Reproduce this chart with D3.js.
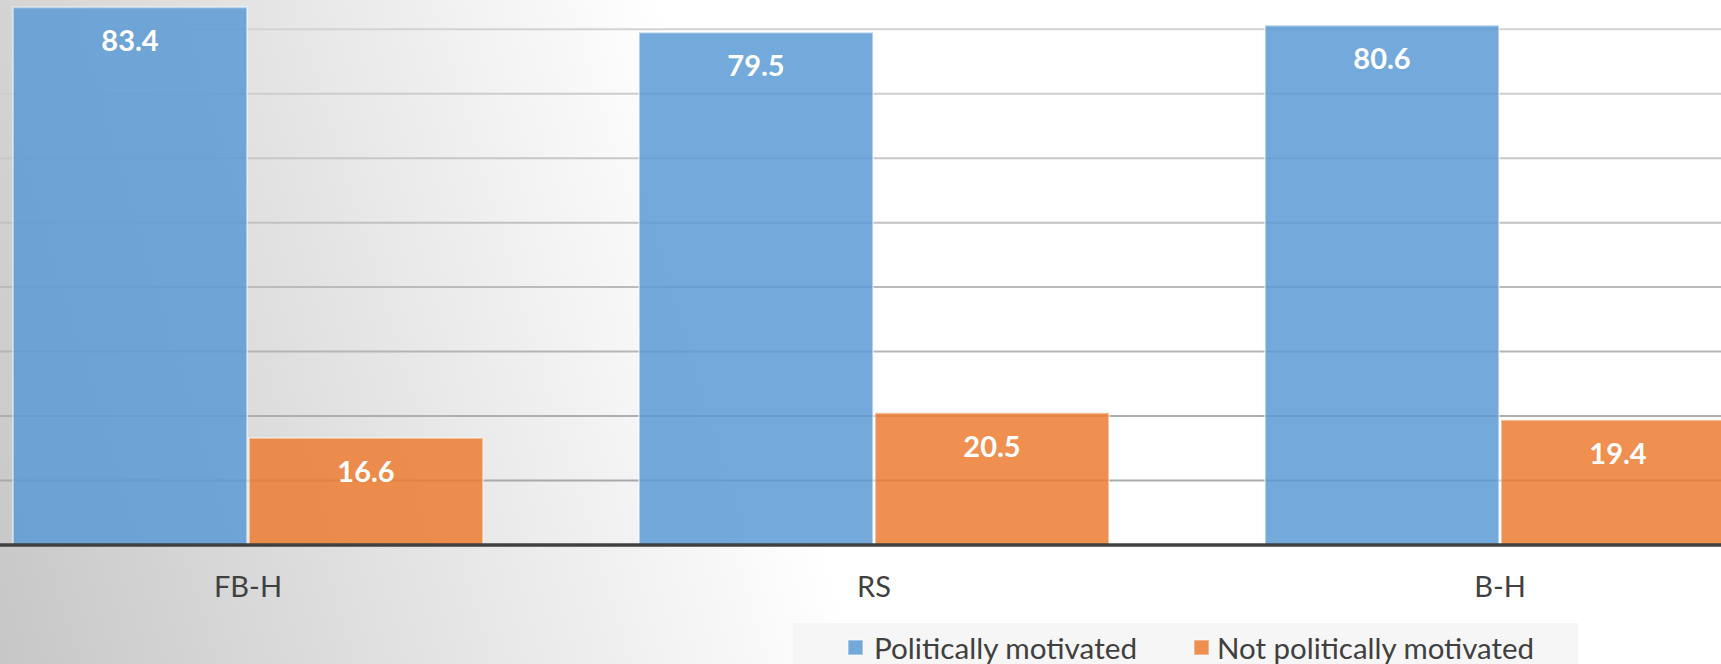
<!DOCTYPE html>
<html>
<head>
<meta charset="utf-8">
<script src="https://cdn.jsdelivr.net/npm/d3@7"></script>
<style>
  html, body { margin: 0; padding: 0; background: #fff; }
  svg { display: block; }
</style>
</head>
<body>
<svg id="chart" width="1721" height="664"></svg>
<script>
const categories = ["FB-H", "RS", "B-H"];
const seriesNames = ["Politically motivated", "Not politically motivated"];
const politicallyMotivated = [83.4, 79.5, 80.6];
const notPoliticallyMotivated = [16.6, 20.5, 19.4];
const gridTicks = [10, 20, 30, 40, 50, 60, 70, 80, 90];
const seriesColors = ["#5b9bd5", "#ed7d31"];

const W = 1721, H = 664;
const svg = d3.select("#chart");
const defs = svg.append("defs");

// background gradient
const bg = defs.append("linearGradient").attr("id", "bg")
  .attr("gradientUnits", "userSpaceOnUse")
  .attr("x1", 0).attr("y1", 700).attr("x2", 1000).attr("y2", 400);
bg.append("stop").attr("offset", 0).attr("stop-color", "#c6c6c6");
bg.append("stop").attr("offset", 0.8).attr("stop-color", "#ffffff");
bg.append("stop").attr("offset", 1).attr("stop-color", "#ffffff");
svg.append("rect").attr("width", W).attr("height", H).attr("fill", "url(#bg)");

const gridGrad = defs.append("linearGradient").attr("id", "gridg")
  .attr("gradientUnits", "userSpaceOnUse")
  .attr("x1", 0).attr("y1", 0).attr("x2", 0).attr("y2", 545);
gridGrad.append("stop").attr("offset", 0).attr("stop-color", "#d6d6d6");
gridGrad.append("stop").attr("offset", 1).attr("stop-color", "#a3a3a3");

const baseY = 545;
const y = d3.scaleLinear().domain([0, 90]).range([baseY, baseY - 90 * 6.4475]);
const x0 = d3.scaleBand().domain(categories).range([-65, 1813])
  .paddingInner(0.246).paddingOuter(0.123);
const x1 = d3.scaleBand().domain(seriesNames).range([0, x0.bandwidth()]);

// gridlines
svg.append("g").selectAll("line").data(gridTicks).join("line")
  .attr("x1", x0.range()[0]).attr("x2", x0.range()[1])
  .attr("y1", d => y(d)).attr("y2", d => y(d))
  .attr("stroke", "url(#gridg)").attr("stroke-width", 2);

const rows = categories.map((c, i) => ({
  cat: c,
  vals: [
    { s: seriesNames[0], v: politicallyMotivated[i], k: 0 },
    { s: seriesNames[1], v: notPoliticallyMotivated[i], k: 1 }
  ]
}));

const groups = svg.append("g").selectAll("g").data(rows).join("g")
  .attr("transform", d => `translate(${x0(d.cat)},0)`);

groups.selectAll("rect").data(d => d.vals).join("rect")
  .attr("x", d => x1(d.s) + 1)
  .attr("width", x1.bandwidth() - 2)
  .attr("y", d => y(d.v))
  .attr("height", d => y(0) - y(d.v))
  .attr("fill", d => seriesColors[d.k])
  .attr("fill-opacity", 0.85)
  .attr("stroke", "#ffffff").attr("stroke-opacity", 0.45).attr("stroke-width", 2);

groups.selectAll("text").data(d => d.vals).join("text")
  .attr("x", d => x1(d.s) + x1.bandwidth() / 2)
  .attr("y", d => y(d.v) + 44)
  .attr("text-anchor", "middle")
  .attr("font-family", "Lato, 'Open Sans', sans-serif")
  .attr("font-weight", "bold")
  .attr("font-size", 29)
  .attr("fill", "#ffffff")
  .text(d => d.v.toFixed(1));

// x axis
const xAxis = svg.append("g").attr("transform", `translate(0,${baseY})`)
  .call(d3.axisBottom(x0).tickSize(0).tickPadding(30));
xAxis.select(".domain").attr("stroke", "#404040").attr("stroke-width", 3.5)
  .attr("d", `M${x0.range()[0]},0H${x0.range()[1]}`);
xAxis.selectAll(".tick text")
  .attr("font-family", "Lato, 'Open Sans', sans-serif")
  .attr("font-size", 29)
  .attr("fill", "#404040")
  .attr("dy", "0")
  .attr("y", 52);

// legend
const leg = svg.append("g");
leg.append("rect").attr("x", 793).attr("y", 623).attr("width", 785).attr("height", 50)
  .attr("fill", "#f6f6f6");
const legX = [848, 1194];
const legTextX = [874, 1217];
const legW = [263, 317];
seriesNames.forEach((s, i) => {
  leg.append("rect").attr("x", legX[i]).attr("y", 640).attr("width", 15).attr("height", 15)
    .attr("fill", seriesColors[i]).attr("fill-opacity", 0.85)
    .attr("stroke", "#ffffff").attr("stroke-opacity", 0.45).attr("stroke-width", 1.5);
  leg.append("text").attr("x", legTextX[i]).attr("y", 658.5)
    .attr("font-family", "Lato, 'Open Sans', sans-serif")
    .attr("font-size", 29)
    .attr("fill", "#404040")
    .attr("textLength", legW[i]).attr("lengthAdjust", "spacingAndGlyphs")
    .text(s);
});
</script>
</body>
</html>
